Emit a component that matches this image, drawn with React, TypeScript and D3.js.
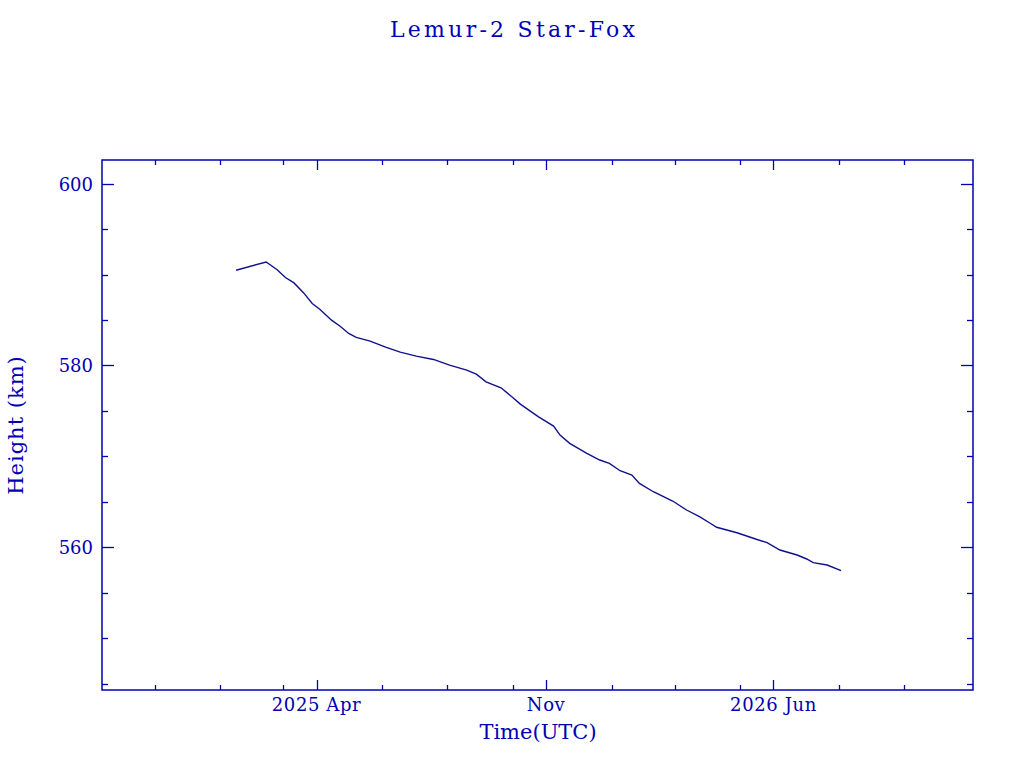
import * as d3 from 'd3';
import { useEffect, useRef } from 'react';

const title = 'Lemur-2 Star-Fox';

// height readings (km) along the track
const dates = [
  '2025-01-16', '2025-02-13', '2025-02-23', '2025-03-03', '2025-03-11',
  '2025-03-20', '2025-03-28', '2025-04-04', '2025-04-15', '2025-04-23',
  '2025-05-01', '2025-05-08', '2025-05-21', '2025-06-05', '2025-06-18',
  '2025-07-03', '2025-07-19', '2025-08-03', '2025-08-19', '2025-08-28',
  '2025-09-06', '2025-09-20', '2025-10-02', '2025-10-08', '2025-10-25',
  '2025-11-08', '2025-11-14', '2025-11-23', '2025-12-09', '2025-12-21',
  '2025-12-30', '2026-01-09', '2026-01-20', '2026-01-27', '2026-02-09',
  '2026-02-27', '2026-03-12', '2026-03-24', '2026-04-03', '2026-04-09',
  '2026-04-28', '2026-05-16', '2026-05-26', '2026-06-07', '2026-06-23',
  '2026-07-02', '2026-07-08', '2026-07-21', '2026-08-03',
];
const heights = [
  590.47, 591.38, 590.55, 589.67, 589.08,
  587.98, 586.81, 586.19, 584.98, 584.32,
  583.52, 583.08, 582.67, 581.98, 581.46,
  581.02, 580.66, 580.03, 579.48, 579.04,
  578.2, 577.54, 576.37, 575.75, 574.35,
  573.33, 572.34, 571.43, 570.33, 569.6,
  569.23, 568.42, 567.95, 567.03, 566.11,
  565.09, 564.1, 563.36, 562.64, 562.2,
  561.6, 560.88, 560.51, 559.7, 559.15,
  558.71, 558.31, 558.05, 557.43,
];

const xDomain = ['2024-09-13', '2026-12-04'];
const yDomain = [544.3, 602.6];

const majorTicks = ['2025-04-01', '2025-11-01', '2026-06-01'];
const majorLabels = ['2025 Apr', 'Nov', '2026 Jun'];
const minorTicks = [
  '2024-11-01', '2025-01-01', '2025-03-01', '2025-06-01', '2025-08-01',
  '2025-10-01', '2026-01-01', '2026-03-01', '2026-05-01', '2026-08-01',
  '2026-10-01',
];
const yMajor = [560, 580, 600];
const yMinor = [545, 550, 555, 565, 570, 575, 585, 590, 595];

export default function App() {
  const ref = useRef<SVGSVGElement>(null);

  const width = 1024;
  const height = 768;
  const margin = { top: 160, right: 51, bottom: 78, left: 102 };
  const ink = '#0000b4';
  const font = "'DejaVu Serif', serif";

  useEffect(() => {
    const svg = d3.select(ref.current);
    svg.selectAll('*').remove();

    const parse = d3.utcParse('%Y-%m-%d');
    const x = d3
      .scaleUtc()
      .domain(xDomain.map((d) => parse(d)))
      .range([margin.left, width - margin.right]);
    const y = d3
      .scaleLinear()
      .domain(yDomain)
      .range([height - margin.bottom, margin.top]);

    const x0 = margin.left;
    const x1 = width - margin.right;
    const y0 = height - margin.bottom;
    const y1 = margin.top;

    // frame
    svg
      .append('rect')
      .attr('x', x0)
      .attr('y', y1)
      .attr('width', x1 - x0)
      .attr('height', y0 - y1)
      .attr('fill', 'none')
      .attr('stroke', ink)
      .attr('stroke-width', 1.5);

    const ticks = svg
      .append('g')
      .attr('stroke', ink)
      .attr('stroke-width', 1.3);

    const xTicks = [
      ...majorTicks.map((d) => ({ v: parse(d), len: 10 })),
      ...minorTicks.map((d) => ({ v: parse(d), len: 5 })),
    ];
    xTicks.forEach((t) => {
      const px = Math.round(x(t.v)) + 0.5;
      ticks.append('line').attr('x1', px).attr('x2', px).attr('y1', y0).attr('y2', y0 - t.len);
      ticks.append('line').attr('x1', px).attr('x2', px).attr('y1', y1).attr('y2', y1 + t.len);
    });

    const yTicks = [
      ...yMajor.map((v) => ({ v, len: 12 })),
      ...yMinor.map((v) => ({ v, len: 6 })),
    ];
    yTicks.forEach((t) => {
      const py = Math.round(y(t.v)) + 0.5;
      ticks.append('line').attr('x1', x0).attr('x2', x0 + t.len).attr('y1', py).attr('y2', py);
      ticks.append('line').attr('x1', x1).attr('x2', x1 - t.len).attr('y1', py).attr('y2', py);
    });

    // tick labels
    svg
      .append('g')
      .selectAll('text')
      .data(majorTicks)
      .join('text')
      .attr('x', (d) => x(parse(d)))
      .attr('y', 711)
      .attr('text-anchor', 'middle')
      .attr('font-family', font)
      .attr('font-size', 18)
      .attr('letter-spacing', 0.6)
      .attr('fill', ink)
      .text((d, i) => majorLabels[i]);

    svg
      .append('g')
      .selectAll('text')
      .data(yMajor)
      .join('text')
      .attr('x', 93)
      .attr('y', (d) => y(d) + 7)
      .attr('text-anchor', 'end')
      .attr('font-family', font)
      .attr('font-size', 18)
      .attr('fill', ink)
      .text((d) => d);

    // titles
    svg
      .append('text')
      .attr('x', 390)
      .attr('y', 37)
      .attr('textLength', 245)
      .attr('lengthAdjust', 'spacing')
      .attr('font-family', font)
      .attr('font-size', 22)
      .attr('fill', ink)
      .text(title);

    svg
      .append('text')
      .attr('x', 538)
      .attr('y', 739)
      .attr('text-anchor', 'middle')
      .attr('font-family', font)
      .attr('font-size', 21)
      .attr('fill', ink)
      .text('Time(UTC)');

    svg
      .append('text')
      .attr('transform', 'translate(23, 425) rotate(-90)')
      .attr('text-anchor', 'middle')
      .attr('font-family', font)
      .attr('font-size', 21)
      .attr('letter-spacing', 1)
      .attr('fill', ink)
      .text('Height (km)');

    // height curve
    const points = dates.map((d, i) => [parse(d), heights[i]] as [Date, number]);
    const line = d3
      .line<[Date, number]>()
      .x((d) => x(d[0]))
      .y((d) => y(d[1]));

    svg
      .append('path')
      .datum(points)
      .attr('d', line)
      .attr('fill', 'none')
      .attr('stroke', '#10108c')
      .attr('stroke-width', 1.4);
  }, []);

  return (
    <svg
      ref={ref}
      width={width}
      height={height}
      style={{ position: 'absolute', left: 0, top: 0, background: '#fff' }}
    ></svg>
  );
}
